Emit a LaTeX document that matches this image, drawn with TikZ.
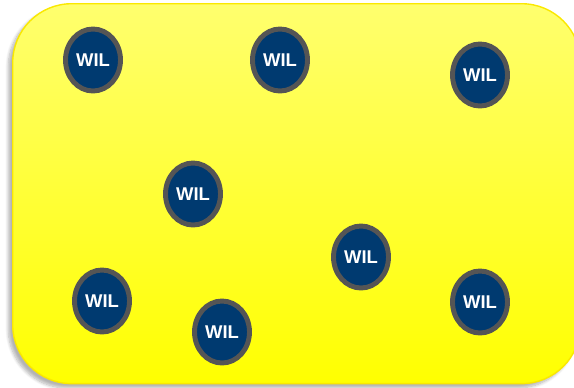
\documentclass[tikz,border=0pt]{standalone}
\usepackage{fontspec}
\setsansfont{Liberation Sans}
\usetikzlibrary{shapes.geometric,shadows.blur}
\definecolor{wilblue}{RGB}{0,58,112}
\definecolor{wilgray}{RGB}{85,85,85}
\definecolor{paleyellow}{RGB}{255,255,110}
\definecolor{edgeyellow}{RGB}{250,232,0}

\begin{document}
\begin{tikzpicture}[x=0.02cm,y=-0.02cm]
\tikzset{
  boardbox/.style={draw=edgeyellow,line width=0.8pt,rounded corners=1.18cm,top color=paleyellow,bottom color=yellow,
    blur shadow={shadow xshift=-2.5pt,shadow yshift=-2.5pt,shadow blur steps=8,shadow opacity=30}},
  wilnode/.style={ellipse,draw=wilgray,fill=wilblue,line width=2.8pt,minimum width=1.1cm,minimum height=1.24cm,
    inner sep=0pt,text=white,font=\sffamily\bfseries\fontsize{10.5}{12}\selectfont}
}
\useasboundingbox (0,0) rectangle (574,387);
\node[boardbox,minimum width=11.36cm,minimum height=7.6cm,anchor=north west] (board) at (12,3) {};
\node[wilnode] (n_W1) at (93,60) {WIL};
\node[wilnode] (n_W2) at (280,60) {WIL};
\node[wilnode] (n_W3) at (480,75) {WIL};
\node[wilnode] (n_W4) at (193,194) {WIL};
\node[wilnode] (n_W5) at (361,257) {WIL};
\node[wilnode] (n_W6) at (102,301) {WIL};
\node[wilnode] (n_W7) at (222,332) {WIL};
\node[wilnode] (n_W8) at (480,302) {WIL};
\end{tikzpicture}
\end{document}
